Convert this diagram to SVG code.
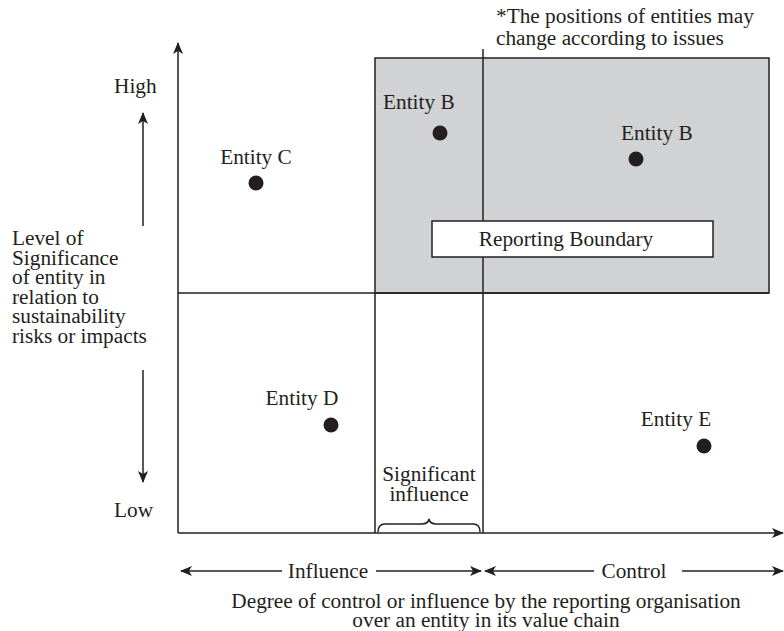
<svg xmlns="http://www.w3.org/2000/svg" width="784" height="631" viewBox="0 0 784 631" font-family="'Liberation Serif', 'Times New Roman', serif">
<style>
text{font-family:"Liberation Serif","Times New Roman",serif;font-size:21.3px;fill:#231f20}
.m{text-anchor:middle}
.ln{stroke:#231f20;stroke-width:1.5;fill:none}
.dot{fill:#231f20}
</style>
<defs>
<marker id="ah" viewBox="0 0 12 10" refX="11" refY="5" markerWidth="12" markerHeight="10" markerUnits="userSpaceOnUse" orient="auto">
<path d="M0,0 L12,5 L0,10 L3,5 Z" fill="#231f20"/>
</marker>
</defs>
<rect width="784" height="631" fill="#fff"/>
<g id="boundary-area">
<rect x="375" y="58" width="394" height="235" fill="#d1d2d4" stroke="#231f20" stroke-width="1.5"/>
</g>
<g id="connectors">
<line class="ln" x1="178" y1="533" x2="178" y2="43" marker-end="url(#ah)"/>
<line class="ln" x1="178" y1="533" x2="783" y2="533" marker-end="url(#ah)"/>
<line class="ln" x1="178" y1="293" x2="769" y2="293"/>
<line class="ln" x1="483" y1="49" x2="483" y2="533"/>
<line class="ln" x1="375" y1="293" x2="375" y2="533"/>
<line class="ln" x1="143" y1="226" x2="143" y2="113" marker-end="url(#ah)"/>
<line class="ln" x1="143" y1="370" x2="143" y2="482" marker-end="url(#ah)"/>
<line class="ln" x1="282" y1="571" x2="181" y2="571" marker-end="url(#ah)"/>
<line class="ln" x1="376" y1="571" x2="481" y2="571" marker-end="url(#ah)"/>
<line class="ln" x1="594" y1="571" x2="485" y2="571" marker-end="url(#ah)"/>
<line class="ln" x1="682" y1="571" x2="783" y2="571" marker-end="url(#ah)"/>
<path class="ln" stroke-width="1.2" d="M378,532 Q378,524 385,524 L422,524 Q428,524 429,519 Q430,524 436,524 L473,524 Q480,524 480,532"/>
</g>
<g id="reporting-boundary">
<rect x="432" y="221" width="281" height="36" fill="#fff" stroke="#231f20" stroke-width="1.5"/>
<text class="m" x="566" y="246">Reporting Boundary</text>
</g>
<g id="entity-c">
<text class="m" x="256" y="164">Entity C</text>
<circle class="dot" cx="256" cy="183" r="7.5"/>
</g>
<g id="entity-b1">
<text x="383" y="109">Entity B</text>
<circle class="dot" cx="440" cy="133" r="7.5"/>
</g>
<g id="entity-b2">
<text x="621" y="140">Entity B</text>
<circle class="dot" cx="636" cy="159" r="7.5"/>
</g>
<g id="entity-d">
<text class="m" x="302" y="405">Entity D</text>
<circle class="dot" cx="331" cy="425" r="7.5"/>
</g>
<g id="entity-e">
<text class="m" x="676" y="426">Entity E</text>
<circle class="dot" cx="704" cy="446" r="7.5"/>
</g>
<g id="labels">
<text x="496" y="23">*The positions of entities may</text>
<text x="496" y="45">change according to issues</text>
<text x="114" y="93">High</text>
<text x="114" y="517">Low</text>
<text x="12" y="245">Level of</text>
<text x="12" y="264.5">Significance</text>
<text x="12" y="284">of entity in</text>
<text x="12" y="303.5">relation to</text>
<text x="12" y="323">sustainability</text>
<text x="12" y="342.5">risks or impacts</text>
<text class="m" x="429" y="481">Significant</text>
<text class="m" x="429" y="501">influence</text>
<text class="m" x="328" y="578">Influence</text>
<text class="m" x="634" y="578">Control</text>
<text class="m" x="486" y="608">Degree of control or influence by the reporting organisation</text>
<text class="m" x="486" y="627">over an entity in its value chain</text>
</g>
</svg>
